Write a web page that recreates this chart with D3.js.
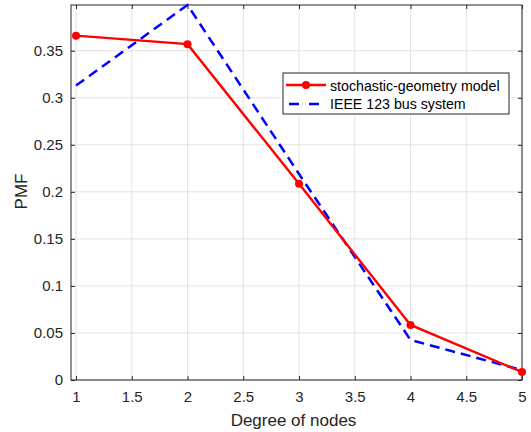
<!DOCTYPE html>
<html>
<head>
<meta charset="utf-8">
<script src="https://cdn.jsdelivr.net/npm/d3@7"></script>
<style>
  body { margin: 0; background: #fff; }
  text { font-family: "Liberation Sans", Arial, sans-serif; }
</style>
</head>
<body>
<div id="plot"></div>
<script>
// Chart data
const degrees = [1, 2, 3, 4, 5];
const modelPmf = [0.366, 0.357, 0.2085, 0.0585, 0.0085];
const ieeePmf = [0.313, 0.3986, 0.219, 0.0426, 0.0105];
const xTicks = [1, 1.5, 2, 2.5, 3, 3.5, 4, 4.5, 5];
const yTicks = [0, 0.05, 0.1, 0.15, 0.2, 0.25, 0.3, 0.35];
const seriesNames = ["stochastic-geometry model", "IEEE 123 bus system"];

const width = 531;
const height = 432;
const margin = { top: 5, right: 9, bottom: 52, left: 71 };

const svg = d3.select("#plot")
  .append("svg")
  .attr("width", width)
  .attr("height", height);

const xScale = d3.scaleLinear()
  .domain([0.955, 5])
  .range([margin.left, width - margin.right]);

const yScale = d3.scaleLinear()
  .domain([0, 0.3986])
  .range([height - margin.bottom, margin.top]);

const axisColor = "#262626";
const gridColor = "#e3e3e3";
const x0 = margin.left, x1 = width - margin.right;
const y0 = height - margin.bottom, y1 = margin.top;

// Grid lines
svg.append("g")
  .selectAll("line.vg")
  .data(xTicks)
  .enter()
  .append("line")
  .attr("x1", d => xScale(d))
  .attr("x2", d => xScale(d))
  .attr("y1", y0)
  .attr("y2", y1)
  .attr("stroke", gridColor)
  .attr("stroke-width", 1);

svg.append("g")
  .selectAll("line.hg")
  .data(yTicks)
  .enter()
  .append("line")
  .attr("x1", x0)
  .attr("x2", x1)
  .attr("y1", d => yScale(d))
  .attr("y2", d => yScale(d))
  .attr("stroke", gridColor)
  .attr("stroke-width", 1);

// Axes (ticks point inward)
const xAxis = svg.append("g")
  .attr("transform", `translate(0,${y0})`)
  .call(d3.axisBottom(xScale).tickValues(xTicks).tickSizeInner(-4).tickSizeOuter(0).tickPadding(11).tickFormat(d3.format("")));

const xAxisTop = svg.append("g")
  .attr("transform", `translate(0,${y1})`)
  .call(d3.axisTop(xScale).tickValues(xTicks).tickSizeInner(-4).tickSizeOuter(0).tickFormat(""));

const yAxis = svg.append("g")
  .attr("transform", `translate(${x0},0)`)
  .call(d3.axisLeft(yScale).tickValues(yTicks).tickSizeInner(-4).tickSizeOuter(0).tickPadding(8).tickFormat(d3.format("")));

const yAxisRight = svg.append("g")
  .attr("transform", `translate(${x1},0)`)
  .call(d3.axisRight(yScale).tickValues(yTicks).tickSizeInner(-4).tickSizeOuter(0).tickFormat(""));

[xAxis, xAxisTop, yAxis, yAxisRight].forEach(g => {
  g.select(".domain").remove();
  g.selectAll(".tick line").attr("stroke", axisColor);
  g.selectAll(".tick text")
    .attr("fill", axisColor)
    .attr("font-size", "15px");
});

// Box
svg.append("rect")
  .attr("x", x0)
  .attr("y", y1)
  .attr("width", x1 - x0)
  .attr("height", y0 - y1)
  .attr("fill", "none")
  .attr("stroke", axisColor)
  .attr("stroke-width", 1);

// Clip region
svg.append("clipPath")
  .attr("id", "clip")
  .append("rect")
  .attr("x", x0)
  .attr("y", y1 - 2)
  .attr("width", x1 - x0)
  .attr("height", y0 - y1 + 4);

const line = d3.line()
  .x(d => xScale(d[0]))
  .y(d => yScale(d[1]));

// IEEE series (dashed blue)
svg.append("path")
  .datum(degrees.map((d, i) => [d, ieeePmf[i]]))
  .attr("clip-path", "url(#clip)")
  .attr("d", line)
  .attr("fill", "none")
  .attr("stroke", "#0000ff")
  .attr("stroke-width", 2.5)
  .attr("stroke-dasharray", "10,6");

// Model series (red with markers)
svg.append("path")
  .datum(degrees.map((d, i) => [d, modelPmf[i]]))
  .attr("d", line)
  .attr("fill", "none")
  .attr("stroke", "#ff0000")
  .attr("stroke-width", 2.4);

svg.selectAll("circle.pt")
  .data(degrees.map((d, i) => [d, modelPmf[i]]))
  .enter()
  .append("circle")
  .attr("cx", d => xScale(d[0]))
  .attr("cy", d => yScale(d[1]))
  .attr("r", 4)
  .attr("fill", "#ff0000");

// Axis labels
svg.append("text")
  .attr("x", (x0 + x1) / 2 - 3)
  .attr("y", 426)
  .attr("text-anchor", "middle")
  .attr("font-size", "17px")
  .attr("fill", axisColor)
  .text("Degree of nodes");

svg.append("text")
  .attr("x", -(y0 + y1) / 2 + 1)
  .attr("y", 27)
  .attr("transform", "rotate(-90)")
  .attr("text-anchor", "middle")
  .attr("font-size", "17px")
  .attr("fill", axisColor)
  .text("PMF");

// Legend
const legend = svg.append("g").attr("transform", "translate(283,73)");
legend.append("rect")
  .attr("width", 226)
  .attr("height", 41)
  .attr("fill", "#fff")
  .attr("stroke", axisColor)
  .attr("stroke-width", 1);

legend.append("line")
  .attr("x1", 3).attr("x2", 43)
  .attr("y1", 12).attr("y2", 12)
  .attr("stroke", "#ff0000")
  .attr("stroke-width", 2.4);
legend.append("circle")
  .attr("cx", 23).attr("cy", 12).attr("r", 4)
  .attr("fill", "#ff0000");

legend.append("line")
  .attr("x1", 3).attr("x2", 43)
  .attr("y1", 31).attr("y2", 31)
  .attr("stroke", "#0000ff")
  .attr("stroke-width", 2.5)
  .attr("stroke-dasharray", "10,10")
  .attr("stroke-dashoffset", -3);

legend.selectAll("text.lg")
  .data(seriesNames)
  .enter()
  .append("text")
  .attr("x", 47)
  .attr("y", (d, i) => 17.5 + i * 18.7)
  .attr("font-size", "14.2px")
  .attr("fill", "#000")
  .text(d => d);
</script>
</body>
</html>
